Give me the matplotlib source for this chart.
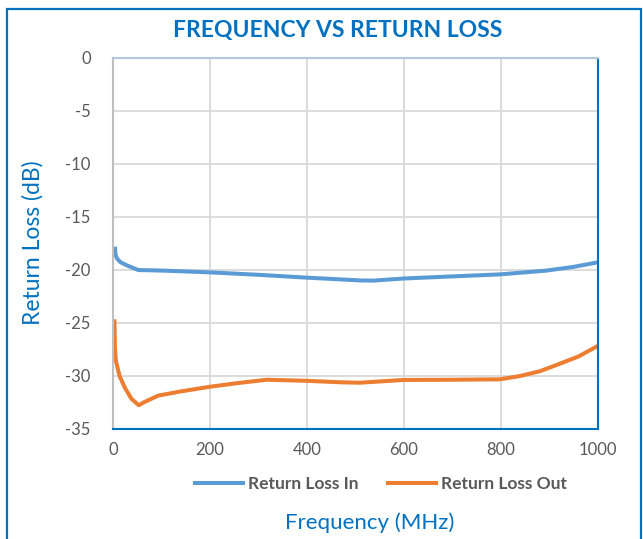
import matplotlib
matplotlib.use("Agg")
import matplotlib.pyplot as plt
from matplotlib.patches import Rectangle

plt.rcParams['font.family'] = ['Lato', 'DejaVu Sans']
plt.rcParams['axes.unicode_minus'] = False

# Frequency (MHz) and return loss (dB)
freq_in = [4, 5, 8, 15, 28, 52, 100, 200, 300, 400, 468, 509, 537, 599, 700, 798, 894, 950, 1000]
loss_in = [-17.85, -18.6, -18.95, -19.3, -19.6, -20.05, -20.1, -20.27, -20.5, -20.77, -20.93, -21.03, -21.05, -20.85, -20.65, -20.46, -20.1, -19.75, -19.32]

freq_out = [3, 4, 6, 10, 14, 25, 38, 53, 65, 93, 140, 200, 260, 317, 399, 468, 509, 599, 700, 798, 839, 880, 915, 960, 1000]
loss_out = [-24.7, -27.5, -28.6, -29.4, -30.1, -31.2, -32.2, -32.8, -32.5, -31.9, -31.5, -31.06, -30.7, -30.4, -30.5, -30.64, -30.68, -30.42, -30.4, -30.36, -30.05, -29.6, -29.0, -28.2, -27.2]

x_ticks = [0, 200, 400, 600, 800, 1000]
y_ticks = [0, -5, -10, -15, -20, -25, -30, -35]

blue = '#0070C0'
grey = '#595959'

fig = plt.figure(figsize=(6.43, 5.39), dpi=100)
ax = fig.add_axes([113 / 643, 1 - 428.5 / 539, 485 / 643, 371 / 539])

ax.plot(freq_in, loss_in, color='#5B9BD5', lw=2.9, label='Return Loss In', solid_capstyle='butt')
ax.plot(freq_out, loss_out, color='#ED7D31', lw=2.9, label='Return Loss Out', solid_capstyle='butt')

ax.set_xlim(0, 1000)
ax.set_ylim(-35, 0)
ax.set_xticks(x_ticks)
ax.set_yticks(y_ticks)
ax.grid(True, color='#D9D9D9', lw=1.3)
ax.set_axisbelow(True)
ax.tick_params(length=0, labelsize=12, labelcolor=grey)
ax.tick_params(axis='y', pad=16)
ax.tick_params(axis='x', pad=10)

ax.spines['top'].set_color('#B4C7DC')
ax.spines['left'].set_color('#BFBFBF')
ax.spines['right'].set_color(blue)
ax.spines['bottom'].set_color(blue)
for s in ax.spines.values():
    s.set_linewidth(1.5)

ax.set_ylabel('Return Loss (dB)', color=blue, fontsize=16.5, labelpad=16)
fig.text(370 / 643, 1 - 523 / 539, 'Frequency (MHz)', color=blue, fontsize=16,
         ha='center', va='center')
fig.text(338 / 643, 1 - 30 / 539, 'FREQUENCY VS RETURN LOSS', color=blue, fontsize=16.5,
         fontweight='bold', ha='center', va='center')

leg = fig.legend(loc='center', bbox_to_anchor=(380 / 643, 1 - 484 / 539), ncol=2,
                 frameon=False, handlelength=3.0, handletextpad=0.15, columnspacing=1.6,
                 prop={'weight': 'bold', 'size': 12.5})
for t in leg.get_texts():
    t.set_color(grey)

fig.patches.append(Rectangle((7 / 643, -0.02), 634 / 643, 1 - 9 / 539 + 0.02,
                             transform=fig.transFigure, fill=False,
                             edgecolor=blue, lw=1.6))

fig.savefig('out.png', dpi=100)
